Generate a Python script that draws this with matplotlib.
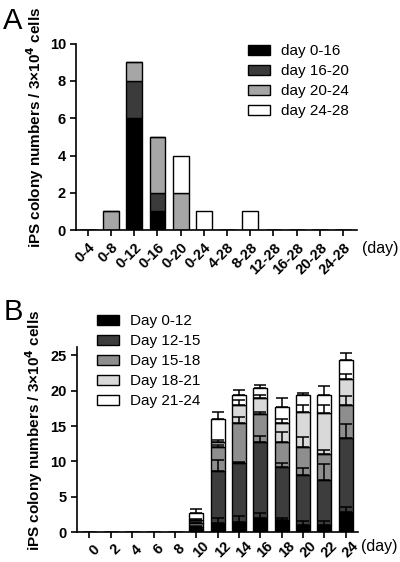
import matplotlib.pyplot as plt
import numpy as np

plt.rcParams['font.family'] = ['Liberation Sans', 'DejaVu Sans']

# panel A data
a_cats = ['0-4', '0-8', '0-12', '0-16', '0-20', '0-24', '4-28', '8-28', '12-28', '16-28', '20-28', '24-28']
a_labels = ['day 0-16', 'day 16-20', 'day 20-24', 'day 24-28']
a_d0_16 = [0, 0, 6, 1, 0, 0, 0, 0, 0, 0, 0, 0]
a_d16_20 = [0, 0, 2, 1, 0, 0, 0, 0, 0, 0, 0, 0]
a_d20_24 = [0, 1, 1, 3, 2, 0, 0, 0, 0, 0, 0, 0]
a_d24_28 = [0, 0, 0, 0, 2, 1, 0, 1, 0, 0, 0, 0]
a_colors = ['#000000', '#3b3b3b', '#a6a6a6', '#ffffff']

# panel B data (mean per segment, upper error)
b_cats = ['0', '2', '4', '6', '8', '10', '12', '14', '16', '18', '20', '22', '24']
b_labels = ['Day 0-12', 'Day 12-15', 'Day 15-18', 'Day 18-21', 'Day 21-24']
b_d0_12 = [0, 0, 0, 0, 0, 0.45, 1.36, 1.4, 2.07, 1.74, 1.03, 1.03, 2.82]
b_d12_15 = [0, 0, 0, 0, 0, 0.35, 7.33, 8.4, 10.73, 7.52, 7.01, 6.35, 10.53]
b_d15_18 = [0, 0, 0, 0, 0, 0.5, 3.31, 5.57, 3.9, 3.44, 3.96, 3.66, 4.69]
b_d18_21 = [0, 0, 0, 0, 0, 0.5, 0.7, 2.63, 2.3, 2.67, 5.0, 5.74, 3.66]
b_d21_24 = [0, 0, 0, 0, 0, 0.9, 3.37, 1.36, 1.44, 2.33, 2.36, 2.58, 2.7]
b_e0_12 = [0, 0, 0, 0, 0, 0.1, 0.7, 0.85, 0.6, 0.3, 0.6, 0.6, 0.8]
b_e12_15 = [0, 0, 0, 0, 0, 0.1, 1.5, 0.15, 0.85, 0.5, 1.1, 2.2, 1.9]
b_e15_18 = [0, 0, 0, 0, 0, 0.1, 0.3, 0.9, 0.3, 1.5, 1.5, 0.65, 1.2]
b_e18_21 = [0, 0, 0, 0, 0, 0.1, 0.3, 0.7, 0.4, 0.7, 1.0, 1.2, 0.65]
b_e21_24 = [0, 0, 0, 0, 0, 0.65, 0.85, 0.7, 0.3, 1.2, 0.35, 1.3, 0.9]
b_colors = ['#000000', '#3d3d3d', '#8e8e8e', '#d9d9d9', '#ffffff']

ylabel = 'iPS colony numbers / 3\u00d710$^\\mathbf{4}$ cells'

fig = plt.figure(figsize=(4.0, 5.62), dpi=100)


def style_axes(ax, cats):
    for s in ['top', 'right']:
        ax.spines[s].set_visible(False)
    for s in ['left', 'bottom']:
        ax.spines[s].set_linewidth(1.2)
    ax.tick_params(width=1.2, length=4, labelsize=10.5)
    ax.set_xticks(range(len(cats)))
    ax.set_xticklabels(cats, rotation=45, ha='right', rotation_mode='anchor',
                       fontweight='bold')
    for lab in ax.get_yticklabels():
        lab.set_fontweight('bold')


def add_legend(ax, x0, y0):
    ax.legend(loc='upper left', bbox_to_anchor=(x0, y0), bbox_transform=fig.transFigure,
              frameon=False, fontsize=11, handlelength=1.45, handleheight=0.7,
              labelspacing=0.39, handletextpad=0.7, borderpad=0, borderaxespad=0)


# ---- panel A ----
axA = fig.add_axes([0.191, 0.5907, 0.7015, 0.3315])
x = np.arange(len(a_cats))
bottom = np.zeros(len(a_cats))
for vals, col, lab in zip([a_d0_16, a_d16_20, a_d20_24, a_d24_28], a_colors, a_labels):
    axA.bar(x, vals, 0.68, bottom=bottom, color=col, edgecolor='black',
            linewidth=1.0, label=lab)
    bottom = bottom + np.array(vals)
axA.set_xlim(-0.49, 11.6)
axA.set_ylim(0, 10)
axA.set_yticks([0, 2, 4, 6, 8, 10])
style_axes(axA, a_cats)
axA.set_ylabel(ylabel, fontsize=11, fontweight='bold')
axA.yaxis.set_label_coords(-0.11, 0.55)
add_legend(axA, 0.62, 0.921)
fig.text(0.997, 0.558, '(day)', fontsize=11.5, ha='right', va='center')
fig.text(0.008, 0.962, 'A', fontsize=21, ha='left', va='center')

# ---- panel B ----
axB = fig.add_axes([0.192, 0.0528, 0.704, 0.3302])
x = np.arange(len(b_cats))
bottom = np.zeros(len(b_cats))
segs = [b_d0_12, b_d12_15, b_d15_18, b_d18_21, b_d21_24]
errs = [b_e0_12, b_e12_15, b_e15_18, b_e18_21, b_e21_24]
for vals, err, col, lab in zip(segs, errs, b_colors, b_labels):
    vals = np.array(vals)
    axB.bar(x, vals, 0.65, bottom=bottom, color=col, edgecolor='black',
            linewidth=1.0, label=lab, zorder=2)
    top = bottom + vals
    err = np.array(err)
    m = vals > 0
    axB.errorbar(x[m], top[m], yerr=[np.zeros(m.sum()), err[m]], fmt='none',
                 ecolor='black', elinewidth=1.1, capsize=4, capthick=1.1, zorder=4)
    bottom = top
axB.set_xlim(-0.59, 12.59)
axB.set_ylim(0, 26.2)
axB.set_yticks([0, 5, 10, 15, 20, 25])
style_axes(axB, b_cats)
for lab in axB.get_xticklabels():
    lab.set_ha('center')
    lab.set_va('top')
axB.tick_params(axis='x', pad=5)
axB.set_ylabel(ylabel, fontsize=11, fontweight='bold')
axB.yaxis.set_label_coords(-0.113, 0.55)
add_legend(axB, 0.2425, 0.4404)
fig.text(0.994, 0.027, '(day)', fontsize=11.5, ha='right', va='center')
fig.text(0.008, 0.445, 'B', fontsize=21, ha='left', va='center')

fig.savefig('out.png', dpi=100)
